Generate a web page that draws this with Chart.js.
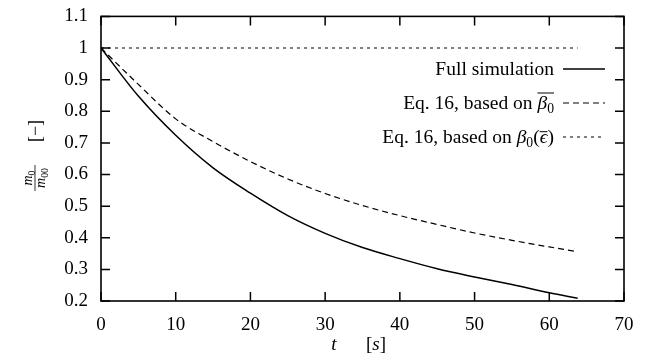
<!DOCTYPE html>
<html>
<head>
<meta charset="utf-8">
<script src="https://cdn.jsdelivr.net/npm/chart.js@4"></script>
<style>
  html, body { margin: 0; padding: 0; background: #fff; }
  #wrap { width: 647px; height: 354px; }
</style>
</head>
<body>
<div id="wrap"><canvas id="myChart"></canvas></div>
<script>
const times = [0, 5, 10, 15, 20, 25, 30, 35, 40, 45, 50, 55, 60, 63.8];
const fullSim = [1.0, 0.848, 0.724, 0.621, 0.541, 0.470, 0.414, 0.369, 0.334, 0.302, 0.276, 0.252, 0.226, 0.209];
const eqBetaBar = [1.0, 0.885, 0.776, 0.704, 0.641, 0.586, 0.540, 0.502, 0.470, 0.442, 0.415, 0.392, 0.371, 0.356];
const eqBetaEps = [1.0, 1.0, 1.0, 1.0, 1.0, 1.0, 1.0, 1.0, 1.0, 1.0, 1.0, 1.0, 1.0, 1.0];
const xTickLabels = ['0', '10', '20', '30', '40', '50', '60', '70'];
const yTickLabels = ['0.2', '0.3', '0.4', '0.5', '0.6', '0.7', '0.8', '0.9', '1', '1.1'];

const FONT = '"Liberation Serif", "DejaVu Serif", serif';

function pts(ys) {
    return times.map((t, i) => ({ x: t, y: ys[i] }));
}

// draws a line of text made of pieces: italic, subscript, overbar
function drawRich(ctx, segs, x, y, align, size) {
    let total = 0;
    const parts = segs.map(s => {
        const fs = s.sub ? size * 0.7 : size;
        ctx.font = (s.it ? 'italic ' : '') + fs + 'px ' + FONT;
        const w = ctx.measureText(s.t).width;
        total += w;
        return Object.assign({}, s, { fs: fs, w: w });
    });
    let cx = align === 'right' ? x - total : align === 'center' ? x - total / 2 : x;
    parts.forEach(p => {
        ctx.font = (p.it ? 'italic ' : '') + p.fs + 'px ' + FONT;
        const dy = p.sub ? size * 0.22 : 0;
        ctx.fillText(p.t, cx, y + dy);
        if (p.bar) {
            ctx.beginPath();
            ctx.lineWidth = 1;
            ctx.moveTo(cx, y - size * p.bar);
            ctx.lineTo(cx + p.w, y - size * p.bar);
            ctx.stroke();
        }
        cx += p.w;
    });
}

const legendRows = [
    { y: 69, dash: [], width: 1.5, segs: [{ t: 'Full simulation' }] },
    { y: 103, dash: [6, 4], width: 1.2, segs: [{ t: 'Eq. 16, based on ' }, { t: 'β', it: true, bar: 0.82 }, { t: '0', sub: true, bar: 0.82 }] },
    { y: 137, dash: [3, 4], width: 1.2, segs: [{ t: 'Eq. 16, based on ' }, { t: 'β', it: true }, { t: '0', sub: true }, { t: '(' }, { t: 'ϵ', it: true, bar: 0.58 }, { t: ')' }] }
];

const decorations = {
    id: 'decorations',
    afterDraw(chart) {
        const ctx = chart.ctx;
        const a = chart.chartArea;
        const xs = chart.scales.x, ys = chart.scales.y;
        ctx.save();
        ctx.strokeStyle = '#000';
        ctx.fillStyle = '#000';
        // frame
        ctx.lineWidth = 1.6;
        ctx.strokeRect(a.left, a.top, a.right - a.left, a.bottom - a.top);
        // inward ticks on all sides
        const tl = 9;
        ctx.lineWidth = 1.5;
        ctx.beginPath();
        xs.ticks.forEach(t => {
            const px = xs.getPixelForValue(t.value);
            ctx.moveTo(px, a.bottom); ctx.lineTo(px, a.bottom - tl);
            ctx.moveTo(px, a.top); ctx.lineTo(px, a.top + tl);
        });
        ys.ticks.forEach(t => {
            const py = ys.getPixelForValue(t.value);
            ctx.moveTo(a.left, py); ctx.lineTo(a.left + tl, py);
            ctx.moveTo(a.right, py); ctx.lineTo(a.right - tl, py);
        });
        ctx.stroke();

        // legend
        ctx.textBaseline = 'alphabetic';
        legendRows.forEach(r => {
            drawRich(ctx, r.segs, 554, r.y + 6, 'right', 19.5);
            ctx.beginPath();
            ctx.setLineDash(r.dash);
            ctx.lineWidth = r.width;
            ctx.moveTo(563, r.y);
            ctx.lineTo(605, r.y);
            ctx.stroke();
            ctx.setLineDash([]);
        });

        // x title
        drawRich(ctx, [{ t: 't', it: true }], 334, 350, 'center', 19);
        drawRich(ctx, [{ t: '[' }, { t: 's', it: true }, { t: ']' }], 376, 350, 'center', 19);

        // y title, rotated
        ctx.translate(35, 155);
        ctx.rotate(-Math.PI / 2);
        drawRich(ctx, [{ t: 'm', it: true }, { t: '0', sub: true }], -23, -3, 'center', 14);
        drawRich(ctx, [{ t: 'm', it: true }, { t: '00', sub: true }], -23, 10, 'center', 14);
        ctx.beginPath();
        ctx.lineWidth = 0.8;
        ctx.moveTo(-36, 0); ctx.lineTo(-10, 0);
        ctx.stroke();
        drawRich(ctx, [{ t: '[−]' }], 24, 6, 'center', 18);
        ctx.restore();
    }
};

new Chart('myChart', {
    type: 'line',
    data: {
        datasets: [{
            label: 'Full simulation',
            data: pts(fullSim),
            borderColor: '#000',
            borderWidth: 1.5,
            pointRadius: 0,
            cubicInterpolationMode: 'monotone',
            fill: false
        }, {
            label: 'Eq. 16, based on β0 bar',
            data: pts(eqBetaBar),
            borderColor: '#000',
            borderWidth: 1.2,
            borderDash: [6, 4],
            pointRadius: 0,
            cubicInterpolationMode: 'monotone',
            fill: false
        }, {
            label: 'Eq. 16, based on β0(ε bar)',
            data: pts(eqBetaEps),
            borderColor: '#000',
            borderWidth: 1.2,
            borderDash: [3, 4],
            pointRadius: 0,
            fill: false
        }]
    },
    options: {
        responsive: true,
        maintainAspectRatio: false,
        animation: false,
        layout: { padding: { top: 16, right: 23, left: 0, bottom: 0 } },
        plugins: {
            legend: { display: false },
            tooltip: { enabled: false }
        },
        scales: {
            x: {
                type: 'linear',
                min: 0,
                max: 70,
                grid: { display: false },
                border: { display: false },
                afterFit: s => { s.height = 53; },
                ticks: {
                    stepSize: 10,
                    padding: 5,
                    color: '#000',
                    font: { family: FONT, size: 19 },
                    callback: (v, i) => xTickLabels[i]
                }
            },
            y: {
                min: 0.2,
                max: 1.1,
                grid: { display: false },
                border: { display: false },
                afterFit: s => { s.width = 101; },
                ticks: {
                    stepSize: 0.1,
                    padding: 5,
                    color: '#000',
                    font: { family: FONT, size: 19 },
                    callback: (v, i) => yTickLabels[i]
                }
            }
        }
    },
    plugins: [decorations]
});
</script>
</body>
</html>
